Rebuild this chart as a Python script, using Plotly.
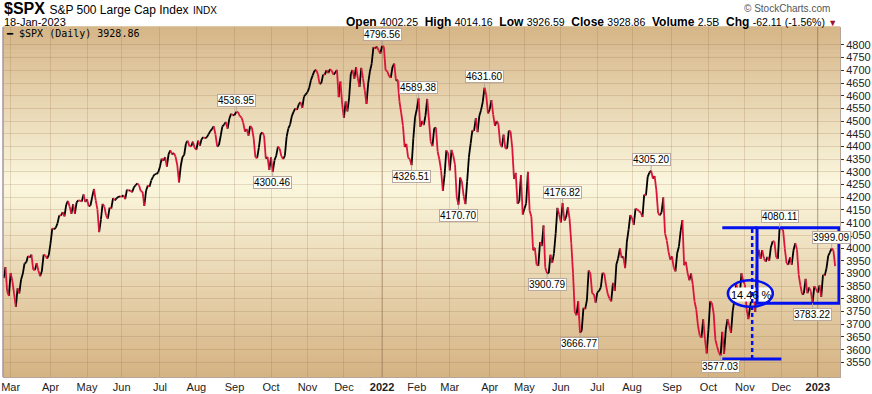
import plotly.graph_objects as go

# ---------------- DATA: S&P 500 daily closes (trading days) ----------------
feb21 = [3881.37, 3925.43, 3829.34, 3811.15]
mar21 = [3901.82, 3870.29, 3819.72, 3768.47, 3841.94, 3821.35, 3875.44, 3898.81, 3939.34, 3943.34,
         3968.94, 3962.71, 3974.12, 3915.46, 3913.10, 3940.59, 3910.52, 3889.14, 3909.52, 3974.54,
         3971.09, 3958.55, 3972.89]
apr21 = [4019.87, 4077.91, 4073.94, 4079.95, 4097.17, 4128.80, 4127.99, 4141.59, 4124.66, 4170.42,
         4185.47, 4163.26, 4134.94, 4173.42, 4134.98, 4180.17, 4187.62, 4186.72, 4183.18, 4211.47,
         4181.17]
may21 = [4192.66, 4164.66, 4167.59, 4201.62, 4232.60, 4188.43, 4152.10, 4063.04, 4112.50, 4173.85,
         4163.29, 4127.83, 4115.68, 4159.12, 4155.86, 4197.05, 4188.13, 4195.99, 4200.88, 4204.11]
jun21 = [4202.04, 4208.12, 4192.85, 4229.89, 4226.52, 4227.26, 4219.55, 4239.18, 4247.44, 4255.15,
         4246.59, 4223.70, 4221.86, 4166.45, 4224.79, 4246.44, 4241.84, 4266.49, 4280.70, 4290.61,
         4291.80, 4297.50]
jul21 = [4319.94, 4352.34, 4343.54, 4358.13, 4320.82, 4369.55, 4384.63, 4369.21, 4374.30, 4360.03,
         4327.16, 4258.49, 4323.06, 4358.69, 4367.48, 4411.79, 4422.30, 4401.46, 4400.64, 4419.15,
         4395.26]
aug21 = [4387.16, 4423.15, 4402.66, 4429.10, 4436.52, 4432.35, 4436.75, 4447.70, 4460.83, 4468.00,
         4479.71, 4448.08, 4400.27, 4405.80, 4441.67, 4479.53, 4486.23, 4496.19, 4470.00, 4509.37,
         4528.79, 4522.68]
sep21 = [4524.09, 4536.95, 4535.43, 4520.03, 4514.07, 4493.28, 4458.58, 4468.73, 4443.05, 4480.70,
         4473.75, 4432.99, 4357.73, 4354.19, 4395.64, 4448.98, 4455.48, 4443.11, 4352.63, 4359.46,
         4307.54]
oct21 = [4357.04, 4300.46, 4345.72, 4363.55, 4399.76, 4391.34, 4361.19, 4350.65, 4363.80, 4438.26,
         4471.37, 4486.46, 4519.63, 4536.19, 4549.78, 4544.90, 4566.48, 4574.79, 4551.68, 4596.42,
         4605.38]
nov21 = [4613.67, 4630.65, 4660.57, 4680.06, 4697.53, 4701.70, 4685.25, 4646.71, 4649.27, 4682.85,
         4682.80, 4700.90, 4688.67, 4704.54, 4697.96, 4682.94, 4690.70, 4701.46, 4594.62, 4655.27,
         4567.00]
dec21 = [4513.04, 4577.10, 4538.43, 4591.67, 4686.75, 4701.21, 4667.45, 4712.02, 4668.97, 4634.09,
         4709.85, 4668.67, 4620.64, 4568.02, 4649.23, 4696.56, 4725.79, 4791.19, 4786.35, 4793.06,
         4778.73, 4766.18]
jan22 = [4796.56, 4793.54, 4700.58, 4696.05, 4677.03, 4670.29, 4713.07, 4726.35, 4659.03, 4662.85,
         4577.11, 4532.76, 4482.73, 4397.94, 4410.13, 4356.45, 4349.93, 4326.51, 4431.85, 4515.55]
feb22 = [4546.54, 4589.38, 4477.44, 4500.53, 4483.87, 4521.54, 4587.18, 4504.08, 4418.64, 4401.67,
         4471.07, 4475.01, 4380.26, 4348.87, 4304.76, 4225.50, 4288.70, 4384.65, 4373.94]
mar22 = [4306.26, 4386.54, 4363.49, 4328.87, 4201.09, 4170.70, 4277.88, 4259.52, 4204.31, 4173.11,
         4262.45, 4357.86, 4411.67, 4463.12, 4461.18, 4511.61, 4456.24, 4520.16, 4543.06, 4575.52,
         4631.60, 4602.45, 4530.41]
apr22 = [4545.86, 4582.64, 4525.12, 4481.15, 4500.21, 4488.28, 4412.53, 4397.45, 4446.59, 4392.59,
         4391.69, 4462.21, 4459.45, 4393.66, 4271.78, 4296.12, 4175.20, 4183.96, 4287.50, 4131.93]
may22 = [4155.38, 4175.48, 4300.17, 4146.87, 4123.34, 3991.24, 4001.05, 3935.18, 3930.08, 4023.89,
         4008.01, 4088.85, 3923.68, 3900.79, 3901.36, 3973.75, 3941.48, 3978.73, 4057.84, 4158.24,
         4132.15]
jun22 = [4101.23, 4176.82, 4108.54, 4121.43, 4160.68, 4115.77, 4017.82, 3900.86, 3749.63, 3735.48,
         3789.99, 3666.77, 3674.84, 3764.79, 3759.89, 3795.73, 3911.74, 3900.11, 3821.55, 3818.83,
         3785.38]
jul22 = [3825.33, 3831.39, 3845.08, 3902.62, 3899.38, 3854.43, 3818.80, 3801.78, 3790.38, 3863.16,
         3830.85, 3936.69, 3959.90, 3998.95, 3961.63, 3966.84, 3921.05, 4023.61, 4072.43, 4130.29]
aug22 = [4118.63, 4091.19, 4155.17, 4151.94, 4145.19, 4140.06, 4122.47, 4210.24, 4207.27, 4280.15,
         4297.14, 4305.20, 4274.04, 4283.74, 4228.48, 4137.99, 4128.73, 4140.77, 4199.12, 4057.66,
         4030.61, 3986.16, 3955.00]
sep22 = [3966.85, 3924.26, 3908.19, 3979.87, 4006.18, 4067.36, 4110.41, 3932.69, 3946.01, 3901.35,
         3873.33, 3899.89, 3855.93, 3789.93, 3757.99, 3693.23, 3655.04, 3647.29, 3719.04, 3640.47,
         3585.62]
oct22 = [3678.43, 3790.93, 3783.28, 3744.52, 3639.66, 3612.39, 3588.84, 3577.03, 3669.91, 3583.07,
         3677.95, 3719.98, 3695.16, 3665.78, 3752.75, 3797.34, 3859.11, 3830.60, 3807.30, 3901.06,
         3871.98]
nov22 = [3856.10, 3759.69, 3719.89, 3770.55, 3806.80, 3828.11, 3748.57, 3956.37, 3992.93, 3957.25,
         3991.73, 3958.79, 3946.56, 3965.34, 3949.94, 4003.58, 4027.26, 4026.12, 3963.94, 3957.63,
         4080.11]
dec22 = [4076.57, 4071.70, 3998.84, 3941.26, 3933.92, 3963.51, 3934.38, 3990.56, 4019.65, 3995.32,
         3895.75, 3852.36, 3817.66, 3821.62, 3878.44, 3822.39, 3844.82, 3829.25, 3783.22, 3849.28,
         3839.50]
jan23 = [3824.14, 3852.97, 3808.10, 3895.08, 3892.09, 3919.25, 3969.61, 3983.17, 3999.09, 3990.97,
         3928.86]

month_series = [feb21, mar21, apr21, may21, jun21, jul21, aug21, sep21, oct21, nov21, dec21,
                jan22, feb22, mar22, apr22, may22, jun22, jul22, aug22, sep22, oct22, nov22, dec22,
                jan23]
month_labels = ["Mar", "Apr", "May", "Jun", "Jul", "Aug", "Sep", "Oct", "Nov", "Dec", "<b>2022</b>",
                "Feb", "Mar", "Apr", "May", "Jun", "Jul", "Aug", "Sep", "Oct", "Nov", "Dec",
                "<b>2023</b>"]
y_ticks = list(range(3550, 4801, 50))
peak_labels = [4536.95, 4796.56, 4589.38, 4631.60, 4176.82, 4305.20, 4080.11, 3999.09]
trough_labels = [4300.46, 4326.51, 4170.70, 3900.79, 3666.77, 3577.03, 3783.22]

# ---------------- build series ----------------
closes = []
month_starts = []
for m in month_series:
    month_starts.append(len(closes))
    closes.extend(m)
tick_vals = month_starts[1:]
year_vals = [month_starts[11], month_starts[23]]

ux, uy, dx, dy = [], [], [], []
for i in range(1, len(closes)):
    if closes[i] >= closes[i - 1]:
        ux += [i - 1, i, None]; uy += [closes[i - 1], closes[i], None]
    else:
        dx += [i - 1, i, None]; dy += [closes[i - 1], closes[i], None]

# ---------------- geometry helpers (pixel -> paper) ----------------
W, H = 872, 394
ML, MR, MT, MB = 1, 32, 27, 15
PW, PH = W - ML - MR, H - MT - MB


def px(xp):
    return (xp - ML) / PW


def py(yp):
    return (H - MB - yp) / PH


fig = go.Figure()
fig.add_trace(go.Scatter(x=ux, y=uy, mode="lines", line=dict(color="#000000", width=1.8),
                         hoverinfo="skip"))
fig.add_trace(go.Scatter(x=dx, y=dy, mode="lines", line=dict(color="#dc143c", width=1.8),
                         hoverinfo="skip"))

shapes = []
# gradient background
top_c = (213, 181, 135)
mid_c = (251, 247, 222)
bot_c = (213, 179, 131)
n = 88
for k in range(n):
    t = (k + 0.5) / n  # from top
    if t < 0.45:
        f = t / 0.45
        c = [top_c[j] + (mid_c[j] - top_c[j]) * f for j in range(3)]
    else:
        f = (t - 0.45) / 0.55
        c = [mid_c[j] + (bot_c[j] - mid_c[j]) * f for j in range(3)]
    shapes.append(dict(type="rect", xref="paper", yref="paper", x0=0, x1=1,
                       y0=1 - (k + 1) / n, y1=1 - k / n + 0.002, line=dict(width=0),
                       fillcolor="rgb(%d,%d,%d)" % tuple(int(round(v)) for v in c), layer="below"))
for yv in year_vals:
    shapes.append(dict(type="line", xref="x", yref="paper", x0=yv, x1=yv, y0=0, y1=1,
                       line=dict(color="rgba(120,90,80,0.45)", width=1), layer="below"))
# left border
shapes.append(dict(type="line", xref="paper", yref="paper", x0=0, x1=0, y0=0, y1=1,
                   line=dict(color="#a8949e", width=1.5)))

# user drawings (blue)
blue = "#0010ee"
hi, lo = 4080.11, 3783.22
shapes.append(dict(type="rect", x0=418.6, x1=442.5, y0=3790, y1=3845, xref="x", yref="y",
                   fillcolor="white", line=dict(width=0), layer="above"))
shapes.append(dict(type="line", x0=414, x1=434, y0=hi, y1=hi, line=dict(color=blue, width=3)))
shapes.append(dict(type="rect", x0=434, x1=481.2, y0=lo, y1=hi, line=dict(color=blue, width=3)))
shapes.append(dict(type="line", x0=431.2, x1=431.2, y0=3563, y1=hi,
                   line=dict(color=blue, width=2.5, dash="4px,3px")))
shapes.append(dict(type="line", x0=414, x1=448, y0=3563, y1=3563, line=dict(color=blue, width=3)))
shapes.append(dict(type="circle", x0=417.2, x1=443.1, y0=3769, y1=3873,
                   line=dict(color=blue, width=2.5)))

annotations = []
lab_font = dict(family="Liberation Sans", size=10, color="#000")
for v in peak_labels:
    i = closes.index(v)
    annotations.append(dict(x=i, y=v, text="%.2f" % v, showarrow=True, arrowhead=0, arrowwidth=1,
                            arrowcolor="#b8a8a0", ax=0, ay=-11, bgcolor="#fffffa",
                            bordercolor="#b8a8a0", borderwidth=1, borderpad=0, font=lab_font))
for v in trough_labels:
    i = closes.index(v)
    annotations.append(dict(x=i, y=v, text="%.2f" % v, showarrow=True, arrowhead=0, arrowwidth=1,
                            arrowcolor="#b8a8a0", ax=0, ay=11, bgcolor="#fffffa",
                            bordercolor="#b8a8a0", borderwidth=1, borderpad=0, font=lab_font))
annotations.append(dict(x=431, y=3817, text="14.46 %", showarrow=False,
                        font=dict(family="Liberation Sans", size=11, color="#000")))

# header texts
annotations.append(dict(xref="paper", yref="paper", x=px(0), y=py(8), xanchor="left",
                        yanchor="middle", showarrow=False,
                        text="<b>$SPX</b> <span style='font-size:12px'>S&amp;P 500 Large Cap Index</span>"
                             " <span style='font-size:10px'>INDX</span>",
                        font=dict(family="Liberation Sans", size=16, color="#000")))
annotations.append(dict(xref="paper", yref="paper", x=px(0), y=py(22), xanchor="left",
                        yanchor="middle", showarrow=False, text="18-Jan-2023",
                        font=dict(family="Liberation Sans", size=11, color="#000")))
annotations.append(dict(xref="paper", yref="paper", x=px(832), y=py(8), xanchor="right",
                        yanchor="middle", showarrow=False, text="© StockCharts.com",
                        font=dict(family="Liberation Sans", size=10, color="#555")))
hdr = ("<b>Open</b> <span style='font-size:10.5px'>4002.25</span>  "
       "<b>High</b> <span style='font-size:10.5px'>4014.16</span>  "
       "<b>Low</b> <span style='font-size:10.5px'>3926.59</span>  "
       "<b>Close</b> <span style='font-size:10.5px'>3928.86</span>  "
       "<b>Volume</b> <span style='font-size:10.5px'>2.5B</span>  "
       "<b>Chg</b> <span style='font-size:10.5px'>-62.11 (-1.56%)</span> "
       "<span style='font-size:9px;color:#a0102a'>▼</span>")
annotations.append(dict(xref="paper", yref="paper", x=px(839), y=py(22), xanchor="right",
                        yanchor="middle", showarrow=False, text=hdr,
                        font=dict(family="Liberation Sans", size=12, color="#000")))
annotations.append(dict(xref="paper", yref="paper", x=px(2), y=py(34), xanchor="left",
                        yanchor="middle", showarrow=False,
                        text="━ $SPX (Daily) 3928.86",
                        font=dict(family="DejaVu Sans Mono", size=10, color="#000")))

fig.update_layout(
    width=W, height=H, margin=dict(l=ML, r=MR, t=MT, b=MB),
    paper_bgcolor="white", plot_bgcolor="rgba(0,0,0,0)", showlegend=False, hovermode=False,
    shapes=shapes, annotations=annotations,
    xaxis=dict(range=[-0.4, 481.8], tickmode="array", tickvals=tick_vals, ticktext=month_labels,
               showgrid=True, gridcolor="rgba(150,110,70,0.22)", gridwidth=1, zeroline=False,
               showline=True, linecolor="#b6a49a", linewidth=1, ticks="",
               ticklabeloverflow="allow",
               tickfont=dict(family="Liberation Sans", size=11, color="#222")),
    yaxis=dict(side="right", range=[3492.4, 4870.5], tickmode="array", tickvals=y_ticks,
               showgrid=True, gridcolor="rgba(150,110,70,0.22)", gridwidth=1, zeroline=False,
               showline=True, linecolor="#b6a49a", linewidth=1, ticks="outside", ticklen=3,
               tickcolor="#333", tickfont=dict(family="Liberation Sans", size=11, color="#222")),
)

fig.write_html("out.html", config={"displayModeBar": False},
               post_script="document.body.style.margin='0';document.body.style.overflow='hidden';")
